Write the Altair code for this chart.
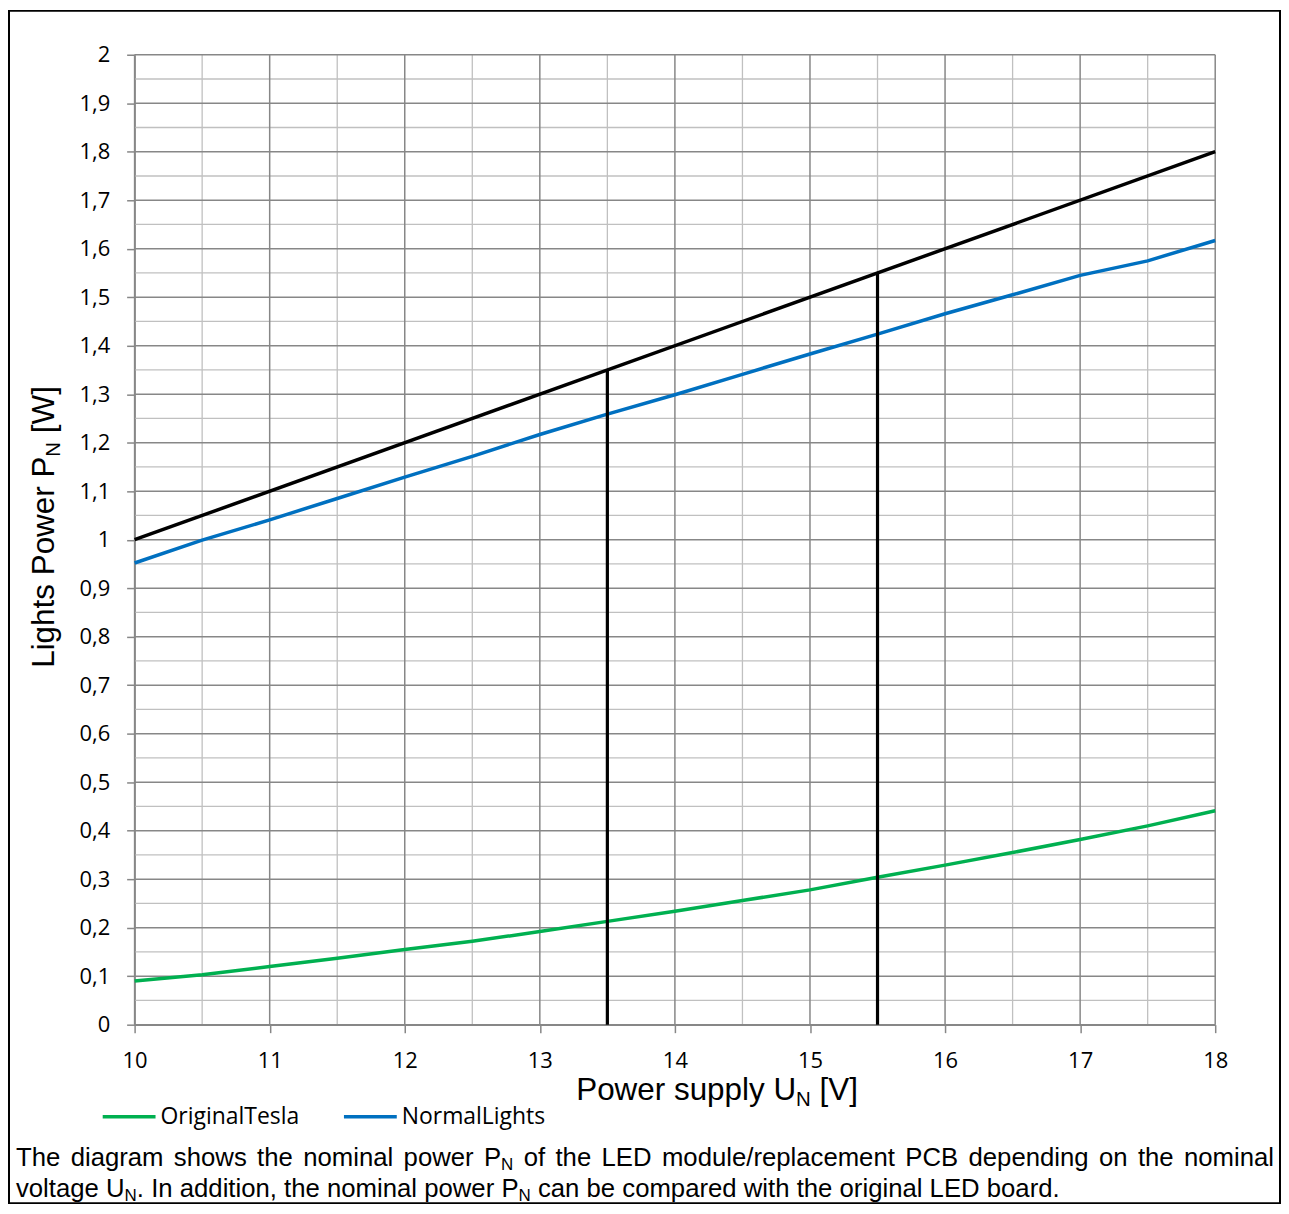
import altair as alt
import pandas as pd

# ---------------- data ----------------
voltage = [10, 10.5, 11, 11.5, 12, 12.5, 13, 13.5, 14, 14.5, 15, 15.5, 16, 16.5, 17, 17.5, 18]
original_tesla = [0.090, 0.103, 0.120, 0.137, 0.155, 0.172, 0.192, 0.213, 0.234, 0.256,
                  0.278, 0.304, 0.329, 0.355, 0.382, 0.410, 0.441]
normal_lights = [0.952, 0.999, 1.041, 1.085, 1.129, 1.172, 1.217, 1.259, 1.299, 1.341,
                 1.383, 1.424, 1.466, 1.505, 1.545, 1.575, 1.617]
ref_voltage = [10, 18]
ref_power = [1.0, 1.8]
marker_voltage = [13.5, 15.5]
marker_power = [1.35, 1.55]

series_names = ["OriginalTesla", "NormalLights"]
series_colors = ["#00B050", "#0070C0"]

x_ticks = [10, 11, 12, 13, 14, 15, 16, 17, 18]
x_minor = [10.5, 11.5, 12.5, 13.5, 14.5, 15.5, 16.5, 17.5]
y_ticks = [0, 0.1, 0.2, 0.3, 0.4, 0.5, 0.6, 0.7, 0.8, 0.9, 1.0,
           1.1, 1.2, 1.3, 1.4, 1.5, 1.6, 1.7, 1.8, 1.9, 2.0]
y_minor = [0.05, 0.15, 0.25, 0.35, 0.45, 0.55, 0.65, 0.75, 0.85, 0.95,
           1.05, 1.15, 1.25, 1.35, 1.45, 1.55, 1.65, 1.75, 1.85, 1.95]

x_title = [("Power supply U", False), ("N", True), (" [V]", False)]
y_title = [("Lights Power P", False), ("N", True), (" [W]", False)]
caption_line1 = [("The diagram shows the nominal power P", False), ("N", True),
                 (" of the LED module/replacement PCB depending on the nominal", False)]
caption_line2 = [("voltage U", False), ("N", True), (". In addition, the nominal power P", False),
                 ("N", True), (" can be compared with the original LED board.", False)]

# ---------------- layout helpers ----------------
PL, PT = 127, 45            # padding left/top -> plot area origin at (135, 53)
W, H = 1084, 973
OX, OY = PL + 8, PT + 8     # absolute page coords of plot origin
SVG_W, SVG_H = 1277, 1198   # keep the page from scrolling

AW = {' ': 278, '.': 278, ',': 278, '/': 278, '[': 278, ']': 278,
      'a': 556, 'b': 556, 'c': 500, 'd': 556, 'e': 556, 'f': 278, 'g': 556, 'h': 556,
      'i': 222, 'l': 222, 'm': 833, 'n': 556, 'o': 556, 'p': 556, 'r': 333, 's': 500,
      't': 278, 'u': 556, 'v': 500, 'w': 722, 'y': 500,
      'B': 667, 'C': 722, 'D': 722, 'E': 667, 'I': 278, 'L': 556, 'N': 722, 'P': 667,
      'T': 611, 'U': 722, 'V': 667, 'W': 944}


def tw(s, size):
    return sum(AW.get(c, 556) for c in s) * size / 1000.0


def layout(pieces, size, sub_size, length=None):
    nat = sum(tw(t, sub_size if s else size) for t, s in pieces)
    nsp = sum(t.count(" ") for t, s in pieces if not s)
    extra = (length - nat) / nsp if length else 0.0
    rows, cur = [], 0.0
    for t, s in pieces:
        if s:
            rows.append((t, cur, True, sub_size))
            cur += tw(t, sub_size)
            continue
        parts = t.split(" ")
        for i, p in enumerate(parts):
            if i > 0:
                cur += tw(" ", size) + extra
            if p:
                rows.append((p, cur, False, size))
                cur += tw(p, size)
    return rows


def horiz_rows(pieces, x0, base, size, sub_size, shift, length=None):
    out = []
    for t, off, s, fs in layout(pieces, size, sub_size, length):
        out.append(dict(t=t, px=x0 + off - OX, py=base + (shift if s else 0) - OY, fs=fs))
    return out


cap_rows = (horiz_rows(caption_line1, 16, 1168, 25.8, 17, 4, length=1262) +
            horiz_rows(caption_line2, 16, 1199, 25.8, 17, 4))
xt_rows = horiz_rows(x_title, 578, 1102, 31.5, 20.5, 6)
yt_rows = []
for t, off, s, fs in layout(y_title, 31.5, 20.5):
    yt_rows.append(dict(t=t, px=54 + (6 if s else 0) - OX, py=668 - off - OY, fs=fs))

# ---------------- chart ----------------
df = pd.DataFrame({
    "voltage": voltage * 2,
    "power": original_tesla + normal_lights,
    "series": [series_names[0]] * len(voltage) + [series_names[1]] * len(voltage),
})
df_ref = pd.DataFrame({"voltage": ref_voltage, "power": ref_power})
df_mark = pd.DataFrame({"voltage": marker_voltage, "power": marker_power,
                        "base": [0.0] * len(marker_voltage)})

xs = alt.Scale(domain=[10, 18], nice=False, zero=False)
ys = alt.Scale(domain=[0, 2], nice=False, zero=False)
GRID_MAJ = "#878787"
GRID_MIN = "#c0c0c0"

x_axis = alt.Axis(values=x_ticks, format="d", grid=False, title=None, tickSize=8,
                  tickColor=GRID_MAJ, tickWidth=1.5, domainColor=GRID_MAJ, domainWidth=1.5,
                  labelFont="Open Sans", labelFontSize=22, labelColor="black",
                  labelPadding=35, labelBaseline="alphabetic", labelFlush=False)
y_axis = alt.Axis(values=y_ticks, grid=False, title=None, tickSize=8,
                  tickColor=GRID_MAJ, tickWidth=1.5, domainColor=GRID_MAJ, domainWidth=1.5,
                  labelFont="Open Sans", labelFontSize=22, labelColor="black",
                  labelPadding=17, labelFlush=False,
                  labelExpr="replace(format(datum.value, '~g'), '.', ',')")

gx_min = alt.Chart(pd.DataFrame({"voltage": x_minor})).mark_rule(
    color=GRID_MIN, strokeWidth=1.3).encode(x=alt.X("voltage:Q", scale=xs, axis=x_axis))
gy_min = alt.Chart(pd.DataFrame({"power": y_minor})).mark_rule(
    color=GRID_MIN, strokeWidth=1.3).encode(y=alt.Y("power:Q", scale=ys, axis=y_axis))
gx_maj = alt.Chart(pd.DataFrame({"voltage": x_ticks})).mark_rule(
    color=GRID_MAJ, strokeWidth=1.5).encode(x=alt.X("voltage:Q"))
gy_maj = alt.Chart(pd.DataFrame({"power": y_ticks})).mark_rule(
    color=GRID_MAJ, strokeWidth=1.5).encode(y=alt.Y("power:Q"))

frame = alt.Chart(pd.DataFrame({"a": [0]})).mark_rect(
    fillOpacity=0, stroke="black", strokeWidth=2).encode(
    x=alt.value(9 - OX), x2=alt.value(8 + SVG_W - 1 - OX),
    y=alt.value(9 - OY), y2=alt.value(8 + SVG_H - 1 - OY))

series_lines = alt.Chart(df).mark_line(strokeWidth=3.5).encode(
    x=alt.X("voltage:Q"),
    y=alt.Y("power:Q"),
    color=alt.Color("series:N",
                    scale=alt.Scale(domain=series_names, range=series_colors),
                    legend=alt.Legend(title=None, orient="none", direction="horizontal",
                                      legendX=101 - OX, legendY=1116 - OY - 26.5,
                                      symbolType="stroke", symbolSize=2809,
                                      symbolStrokeWidth=3.5, labelFont="Open Sans",
                                      labelFontSize=23, labelColor="black", labelOffset=3,
                                      columnPadding=37, labelLimit=400, padding=0)),
)
ref_line = alt.Chart(df_ref).mark_line(color="black", strokeWidth=3.5).encode(
    x="voltage:Q", y="power:Q")
marks = alt.Chart(df_mark).mark_rule(color="black", strokeWidth=3.2).encode(
    x="voltage:Q", y="base:Q", y2="power:Q")


def text_layer(rows, **kw):
    return alt.Chart(pd.DataFrame(rows)).mark_text(
        align="left", baseline="alphabetic", font="Liberation Sans", color="black", **kw
    ).encode(x=alt.X("px:Q", scale=None), y=alt.Y("py:Q", scale=None),
             size=alt.Size("fs:Q", scale=None, legend=None), text="t:N")


caption = text_layer(cap_rows)
xtitle = text_layer(xt_rows)
ytitle = text_layer(yt_rows, angle=270)

chart = alt.layer(
    gx_min, gy_min, gx_maj, gy_maj, frame, series_lines, ref_line, marks,
    caption, xtitle, ytitle
).properties(
    width=W, height=H, autosize=alt.AutoSizeParams(type="none"),
    padding={"left": PL, "top": PT, "right": SVG_W - PL - W, "bottom": SVG_H - PT - H},
    background="white",
).configure_view(strokeWidth=0)

chart.save("out.html", embed_options={"renderer": "svg", "actions": False})
